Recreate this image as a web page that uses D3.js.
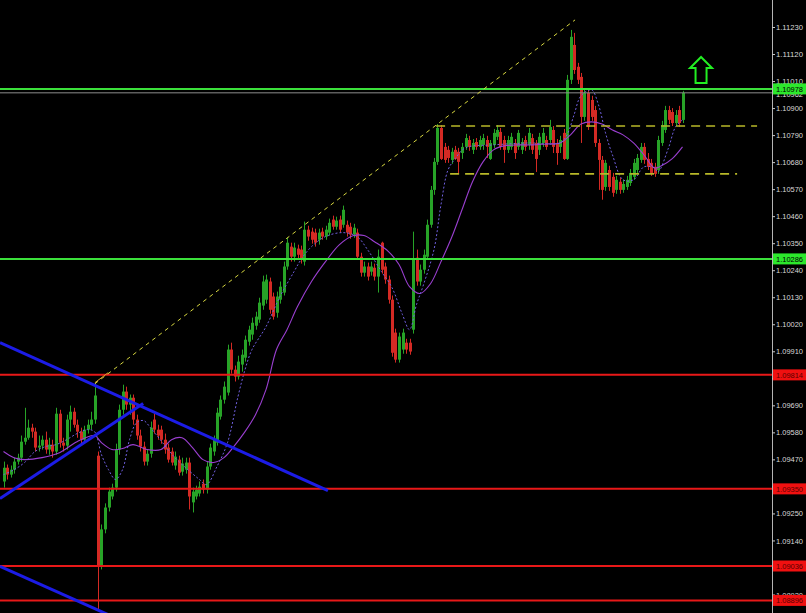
<!DOCTYPE html>
<html><head><meta charset="utf-8">
<script src="https://cdn.jsdelivr.net/npm/d3@7"></script>
<style>html,body{margin:0;padding:0;background:#000;overflow:hidden}svg{display:block}</style>
</head><body><svg id="c" width="806" height="613"></svg>
<script>
// ---- candle data (bar index 0..194) ----
const opens=[1.09380,1.09436,1.09408,1.09428,1.09461,1.09477,1.09542,1.09558,1.09599,1.09583,
1.09518,1.09526,1.09550,1.09510,1.09530,1.09502,1.09656,1.09538,1.09526,1.09632,
1.09664,1.09611,1.09583,1.09550,1.09591,1.09611,1.09632,1.09485,1.09035,1.09185,
1.09274,1.09319,1.09355,1.09510,1.09672,1.09746,1.09693,1.09721,1.09632,1.09567,
1.09522,1.09461,1.09493,1.09632,1.09591,1.09591,1.09550,1.09518,1.09502,1.09445,
1.09469,1.09420,1.09428,1.09457,1.09295,1.09319,1.09331,1.09371,1.09347,1.09441,
1.09502,1.09538,1.09644,1.09713,1.09742,1.09917,1.09835,1.09807,1.09856,1.09884,
1.09949,1.09978,1.10014,1.10039,1.10096,1.10120,1.10194,1.10133,1.10067,1.10120,
1.10149,1.10255,1.10336,1.10295,1.10328,1.10324,1.10275,1.10405,1.10397,1.10393,
1.10364,1.10397,1.10377,1.10393,1.10446,1.10417,1.10446,1.10425,1.10425,1.10417,
1.10385,1.10393,1.10295,1.10230,1.10255,1.10234,1.10250,1.10214,1.10352,1.10255,
1.10202,1.10120,1.09986,1.09876,1.09917,1.09945,1.09945,1.09998,1.10291,1.10194,
1.10242,1.10295,1.10425,1.10567,1.10681,1.10819,1.10742,1.10730,1.10689,1.10730,
1.10722,1.10717,1.10742,1.10770,1.10730,1.10762,1.10742,1.10750,1.10770,1.10693,
1.10750,1.10783,1.10803,1.10770,1.10730,1.10742,1.10758,1.10742,1.10730,1.10770,
1.10750,1.10778,1.10758,1.10730,1.10758,1.10770,1.10770,1.10811,1.10758,1.10742,
1.10799,1.10693,1.11015,1.11157,1.11068,1.11027,1.10864,1.10962,1.10933,1.10892,
1.10758,1.10689,1.10579,1.10648,1.10620,1.10567,1.10600,1.10567,1.10579,1.10595,
1.10620,1.10648,1.10689,1.10742,1.10693,1.10677,1.10661,1.10648,1.10758,1.10811,
1.10892,1.10884,1.10839,1.10892,1.10852];
const highs=[1.09461,1.09449,1.09445,1.09477,1.09493,1.09567,1.09680,1.09632,1.09615,1.09599,
1.09567,1.09567,1.09583,1.09558,1.09550,1.09680,1.09672,1.09558,1.09652,1.09689,
1.09680,1.09632,1.09599,1.09607,1.09632,1.09664,1.09782,1.09502,1.09205,1.09291,
1.09355,1.09371,1.09534,1.09693,1.09774,1.09766,1.09734,1.09734,1.09652,1.09591,
1.09542,1.09510,1.09624,1.09656,1.09611,1.09607,1.09575,1.09534,1.09518,1.09502,
1.09485,1.09477,1.09477,1.09477,1.09355,1.09363,1.09380,1.09388,1.09461,1.09534,
1.09567,1.09680,1.09730,1.09787,1.09937,1.09945,1.09852,1.09892,1.09917,1.09974,
1.10014,1.10047,1.10071,1.10128,1.10218,1.10222,1.10210,1.10149,1.10153,1.10194,
1.10275,1.10372,1.10352,1.10352,1.10344,1.10340,1.10438,1.10421,1.10413,1.10409,
1.10409,1.10413,1.10421,1.10450,1.10462,1.10458,1.10462,1.10503,1.10442,1.10433,
1.10429,1.10409,1.10311,1.10275,1.10271,1.10275,1.10267,1.10324,1.10356,1.10271,
1.10218,1.10137,1.10002,1.09986,1.10002,1.09961,1.09961,1.10397,1.10324,1.10263,
1.10324,1.10446,1.10583,1.10697,1.10835,1.10831,1.10758,1.10746,1.10738,1.10746,
1.10738,1.10758,1.10795,1.10787,1.10774,1.10778,1.10787,1.10795,1.10787,1.10770,
1.10815,1.10831,1.10819,1.10787,1.10787,1.10799,1.10774,1.10811,1.10778,1.10787,
1.10819,1.10795,1.10770,1.10799,1.10819,1.10787,1.10852,1.10827,1.10774,1.10787,
1.10815,1.11035,1.11218,1.11206,1.11084,1.11043,1.10978,1.10978,1.10950,1.10909,
1.10774,1.10705,1.10689,1.10665,1.10636,1.10624,1.10616,1.10608,1.10624,1.10652,
1.10693,1.10713,1.10758,1.10758,1.10717,1.10693,1.10677,1.10787,1.10848,1.10909,
1.10909,1.10900,1.10892,1.10909,1.10970];
const lows=[1.09355,1.09388,1.09396,1.09412,1.09449,1.09461,1.09530,1.09550,1.09558,1.09502,
1.09502,1.09510,1.09493,1.09489,1.09477,1.09489,1.09518,1.09502,1.09510,1.09583,
1.09599,1.09558,1.09530,1.09534,1.09575,1.09591,1.09615,1.08859,1.09022,1.09169,
1.09258,1.09307,1.09339,1.09489,1.09652,1.09672,1.09652,1.09611,1.09550,1.09502,
1.09445,1.09445,1.09477,1.09575,1.09550,1.09534,1.09493,1.09457,1.09445,1.09428,
1.09404,1.09404,1.09412,1.09266,1.09254,1.09307,1.09319,1.09331,1.09331,1.09428,
1.09485,1.09526,1.09632,1.09697,1.09730,1.09819,1.09787,1.09795,1.09827,1.09868,
1.09933,1.09957,1.09998,1.10026,1.10079,1.10104,1.10063,1.10039,1.10047,1.10104,
1.10137,1.10242,1.10275,1.10275,1.10283,1.10267,1.10259,1.10360,1.10348,1.10336,
1.10344,1.10364,1.10364,1.10381,1.10405,1.10405,1.10393,1.10413,1.10377,1.10368,
1.10372,1.10283,1.10214,1.10214,1.10198,1.10218,1.10198,1.10149,1.10226,1.10185,
1.10104,1.09888,1.09864,1.09864,1.09900,1.09900,1.09896,1.09982,1.10177,1.10177,
1.10226,1.10283,1.10413,1.10547,1.10669,1.10689,1.10677,1.10677,1.10673,1.10689,
1.10632,1.10693,1.10730,1.10726,1.10713,1.10730,1.10730,1.10730,1.10697,1.10689,
1.10738,1.10770,1.10730,1.10677,1.10717,1.10730,1.10693,1.10730,1.10713,1.10726,
1.10730,1.10713,1.10640,1.10709,1.10742,1.10730,1.10758,1.10717,1.10669,1.10717,
1.10689,1.10689,1.10998,1.11039,1.10998,1.10758,1.10848,1.10811,1.10848,1.10742,
1.10567,1.10527,1.10563,1.10563,1.10539,1.10551,1.10551,1.10555,1.10567,1.10583,
1.10608,1.10636,1.10677,1.10673,1.10648,1.10624,1.10620,1.10632,1.10746,1.10799,
1.10835,1.10827,1.10827,1.10823,1.10839];
const closes=[1.09436,1.09408,1.09428,1.09461,1.09477,1.09542,1.09558,1.09599,1.09583,1.09518,
1.09526,1.09550,1.09510,1.09530,1.09502,1.09656,1.09538,1.09526,1.09632,1.09664,
1.09611,1.09583,1.09550,1.09591,1.09611,1.09632,1.09730,1.09035,1.09185,1.09274,
1.09339,1.09355,1.09510,1.09672,1.09746,1.09693,1.09721,1.09632,1.09567,1.09522,
1.09461,1.09493,1.09599,1.09591,1.09567,1.09550,1.09510,1.09469,1.09457,1.09481,
1.09416,1.09453,1.09457,1.09319,1.09339,1.09347,1.09359,1.09347,1.09441,1.09518,
1.09550,1.09660,1.09713,1.09766,1.09917,1.09835,1.09807,1.09868,1.09896,1.09957,
1.09998,1.10026,1.10051,1.10108,1.10194,1.10202,1.10079,1.10051,1.10133,1.10173,
1.10255,1.10352,1.10295,1.10332,1.10303,1.10283,1.10405,1.10377,1.10364,1.10352,
1.10393,1.10377,1.10405,1.10433,1.10417,1.10442,1.10405,1.10486,1.10393,1.10385,
1.10413,1.10295,1.10230,1.10255,1.10214,1.10255,1.10214,1.10295,1.10242,1.10202,
1.10120,1.09904,1.09876,1.09970,1.09986,1.09917,1.09909,1.10283,1.10194,1.10242,
1.10303,1.10425,1.10567,1.10681,1.10819,1.10693,1.10689,1.10697,1.10722,1.10693,
1.10681,1.10742,1.10778,1.10742,1.10758,1.10742,1.10770,1.10778,1.10742,1.10758,
1.10799,1.10811,1.10742,1.10730,1.10770,1.10783,1.10717,1.10799,1.10762,1.10742,
1.10799,1.10730,1.10693,1.10783,1.10799,1.10742,1.10823,1.10742,1.10717,1.10770,
1.10693,1.11015,1.11190,1.11055,1.11015,1.10864,1.10962,1.10823,1.10864,1.10758,
1.10689,1.10567,1.10677,1.10579,1.10555,1.10608,1.10567,1.10591,1.10608,1.10636,
1.10677,1.10697,1.10742,1.10689,1.10661,1.10636,1.10632,1.10770,1.10831,1.10892,
1.10852,1.10839,1.10872,1.10839,1.10962];

// ---- moving averages (bar index, price) ----
const slowMaIdx=[0,3,6,11,16,21,26,28,31,34,37,41,45,48,51,54,57,60,63,66,69,72,75,78,81,84,88,92,96,100,103,106,110,113,116,119,122,125,128,131,134,137,140,143,147,151,155,159,162,165,168,171,174,177,180,183,186,188,191,194];
const slowMaVal=[1.09502,1.09477,1.09469,1.09477,1.09497,1.09542,1.09567,1.09538,1.09510,1.09514,
1.09530,1.09510,1.09510,1.09550,1.09558,1.09518,1.09469,1.09457,1.09477,1.09526,
1.09583,1.09652,1.09754,1.09917,1.09998,1.10092,1.10194,1.10275,1.10344,1.10381,
1.10381,1.10356,1.10316,1.10263,1.10173,1.10145,1.10185,1.10275,1.10372,1.10486,
1.10600,1.10681,1.10730,1.10746,1.10750,1.10750,1.10754,1.10758,1.10791,1.10835,
1.10844,1.10835,1.10811,1.10791,1.10758,1.10709,1.10656,1.10665,1.10693,1.10742];
const fastMaIdx=[0,3,6,9,12,15,18,21,24,26,28,30,32,34,36,38,40,42,45,49,53,56,58,61,64,67,69,71,75,79,83,85,88,92,97,101,104,108,111,114,116,118,120,123,125,127,129,132,140,150,159,161,163,165,168,170,172,174,177,180,183,186,187,190,192,194];
const fastMaVal=[1.09408,1.09428,1.09457,1.09502,1.09522,1.09530,1.09550,1.09575,1.09591,1.09583,
1.09489,1.09428,1.09388,1.09428,1.09550,1.09619,1.09628,1.09599,1.09546,1.09477,
1.09424,1.09388,1.09367,1.09441,1.09538,1.09726,1.09835,1.09917,1.10010,1.10133,
1.10234,1.10283,1.10336,1.10377,1.10393,1.10377,1.10324,1.10234,1.10169,1.10059,
1.09998,1.10100,1.10181,1.10324,1.10507,1.10648,1.10693,1.10738,1.10750,1.10758,
1.10758,1.10791,1.10872,1.10950,1.10974,1.10913,1.10799,1.10709,1.10608,1.10608,
1.10661,1.10656,1.10640,1.10738,1.10823,1.10852];

// ---- horizontal levels ----
const greenLevels=[1.10978,1.10286];
const redLevels=[1.09814,1.09350,1.09036,1.08896];
const bidPrice=1.10962;
// ---- axis ticks (labels hidden behind level boxes are left blank, as in the picture) ----
const tickValues=[1.11230,1.11120,1.11010,1.10900,1.10790,1.10680,1.10570,1.10460,1.10350,1.10240,1.10130,1.10020,1.09910,1.09800,1.09690,1.09580,1.09470,1.09360,1.09250,1.09140,1.09030,1.08920];
const hiddenTicks=[1.09800,1.09360,1.09030];
// ---- drawn objects (bar index, price) ----
const blueLines=[
  [{i:-1,p:1.09945},{i:92.7,p:1.09343}],
  [{i:-1,p:1.09311},{i:39.9,p:1.09697}],
  [{i:-1,p:1.09035},{i:30.4,p:1.08835}]
];
const trendLine=[{i:26.1,p:1.09778},{i:163.3,p:1.11259}];
const trendStart=[{i:26.1,p:1.09782},{i:29.9,p:1.09823}];
const rangeLines=[
  [{i:123.6,p:1.10827},{i:215.3,p:1.10827}],
  [{i:127.6,p:1.10632},{i:209.6,p:1.10632}]
];
const arrowAnchor={i:199.3,p:1.11108};

const W=806,H=613,axisX=772;
const FONT="Liberation Sans, Arial, sans-serif";
const svg=d3.select("#c");
svg.append("rect").attr("width",W).attr("height",H).attr("fill","#000");
svg.append("defs").append("clipPath").attr("id","clip").append("rect").attr("x",0).attr("y",0).attr("width",axisX).attr("height",H);

const x=d3.scaleLinear().domain([0,194]).range([3.5,682.5]);
const y=d3.scaleLinear().domain([1.0892,1.1123]).range([594.5,27]);

const plot=svg.append("g").attr("clip-path","url(#clip)");
const candles=opens.map((o,i)=>({i,o,h:highs[i],l:lows[i],c:closes[i]}));
const up="#27a327",dn="#d42a24";
const cg=plot.append("g");
cg.selectAll("line").data(candles).join("line")
 .attr("x1",d=>Math.round(x(d.i))+0.5).attr("x2",d=>Math.round(x(d.i))+0.5)
 .attr("y1",d=>y(d.h)).attr("y2",d=>y(d.l))
 .attr("stroke",d=>d.c>=d.o?up:dn).attr("stroke-width",1);
cg.selectAll("rect").data(candles).join("rect")
 .attr("x",d=>Math.round(x(d.i))-1).attr("width",3)
 .attr("y",d=>y(Math.max(d.o,d.c)))
 .attr("height",d=>Math.max(1,Math.abs(y(d.o)-y(d.c))))
 .attr("fill",d=>d.c>=d.o?up:dn);

// moving averages
const maLine=d3.line().x(d=>x(d[0])).y(d=>y(d[1])).curve(d3.curveCatmullRom);
plot.append("path").attr("d",maLine(slowMaIdx.map((v,k)=>[v,slowMaVal[k]])))
 .attr("fill","none").attr("stroke","#9a3fd0").attr("stroke-width",1.1);
plot.append("path").attr("d",maLine(fastMaIdx.map((v,k)=>[v,fastMaVal[k]])))
 .attr("fill","none").attr("stroke","#7060e0").attr("stroke-width",1).attr("stroke-dasharray","2,2");

// horizontal levels
const lg=plot.append("g");
lg.append("line").attr("x1",0).attr("x2",axisX).attr("y1",y(bidPrice)).attr("y2",y(bidPrice)).attr("stroke","#8c8c8c").attr("stroke-width",1);
lg.selectAll("line.g").data(greenLevels).join("line").attr("class","g")
 .attr("x1",0).attr("x2",axisX).attr("y1",d=>y(d)).attr("y2",d=>y(d)).attr("stroke","#3be03b").attr("stroke-width",2);
lg.selectAll("line.r").data(redLevels).join("line").attr("class","r")
 .attr("x1",0).attr("x2",axisX).attr("y1",d=>y(d)).attr("y2",d=>y(d)).attr("stroke","#e81818").attr("stroke-width",2);

// trend / range lines
const ln=d3.line().x(d=>x(d.i)).y(d=>y(d.p));
plot.append("path").attr("d",ln(trendLine)).attr("stroke","#d8d840").attr("stroke-width",1).attr("stroke-dasharray","4,4").attr("fill","none");
plot.append("path").attr("d",ln(trendStart)).attr("stroke","#e0a030").attr("stroke-width",1).attr("fill","none");
rangeLines.forEach(r=>plot.append("path").attr("d",ln(r)).attr("stroke","#b8b828").attr("stroke-width",1.6).attr("stroke-dasharray","9,6").attr("fill","none"));
blueLines.forEach(b=>plot.append("path").attr("d",ln(b)).attr("stroke","#1c1ce6").attr("stroke-width",3).attr("fill","none"));

// arrow annotation
const ax=x(arrowAnchor.i),ay=y(arrowAnchor.p);
plot.append("path").attr("d",`M${ax},${ay} L${ax+11},${ay+11} L${ax+5.5},${ay+11} L${ax+5.5},${ay+26} L${ax-5.5},${ay+26} L${ax-5.5},${ay+11} L${ax-11},${ay+11} Z`)
 .attr("fill","none").attr("stroke","#22ee22").attr("stroke-width",2);

// right axis
svg.append("line").attr("x1",axisX+0.5).attr("x2",axisX+0.5).attr("y1",0).attr("y2",H).attr("stroke","#b4b4b4").attr("stroke-width",1);
const fmt=d3.format(".5f");
const axis=d3.axisRight(y).tickValues(tickValues)
 .tickFormat(d=>hiddenTicks.some(h=>Math.abs(h-d)<1e-7)?"":fmt(d)).tickSize(3).tickPadding(1);
const ag=svg.append("g").attr("transform",`translate(${axisX},0)`).call(axis);
ag.select(".domain").remove();
ag.selectAll(".tick line").attr("stroke","#c8c8c8");
ag.selectAll(".tick text").attr("fill","#d8d8d8").attr("font-family",FONT).attr("font-size",8)
 .attr("textLength",27).attr("lengthAdjust","spacingAndGlyphs");

// price labels
svg.append("text").attr("x",776).attr("y",y(bidPrice)+4).text(fmt(bidPrice)).attr("fill","#e0e0e0")
 .attr("font-family",FONT).attr("font-size",8).attr("textLength",27).attr("lengthAdjust","spacingAndGlyphs");
function label(p,bg,fg){
  const g=svg.append("g");
  g.append("rect").attr("x",axisX+1).attr("y",y(p)-5.5).attr("width",W-axisX-1).attr("height",11).attr("fill",bg);
  g.append("text").attr("x",776).attr("y",y(p)+3).text(fmt(p)).attr("fill",fg)
   .attr("font-family",FONT).attr("font-size",8).attr("textLength",27).attr("lengthAdjust","spacingAndGlyphs");
}
greenLevels.forEach(p=>label(p,"#2ce82c","#000"));
redLevels.forEach(p=>label(p,"#f01010","#5a0000"));
</script>
</body></html>
